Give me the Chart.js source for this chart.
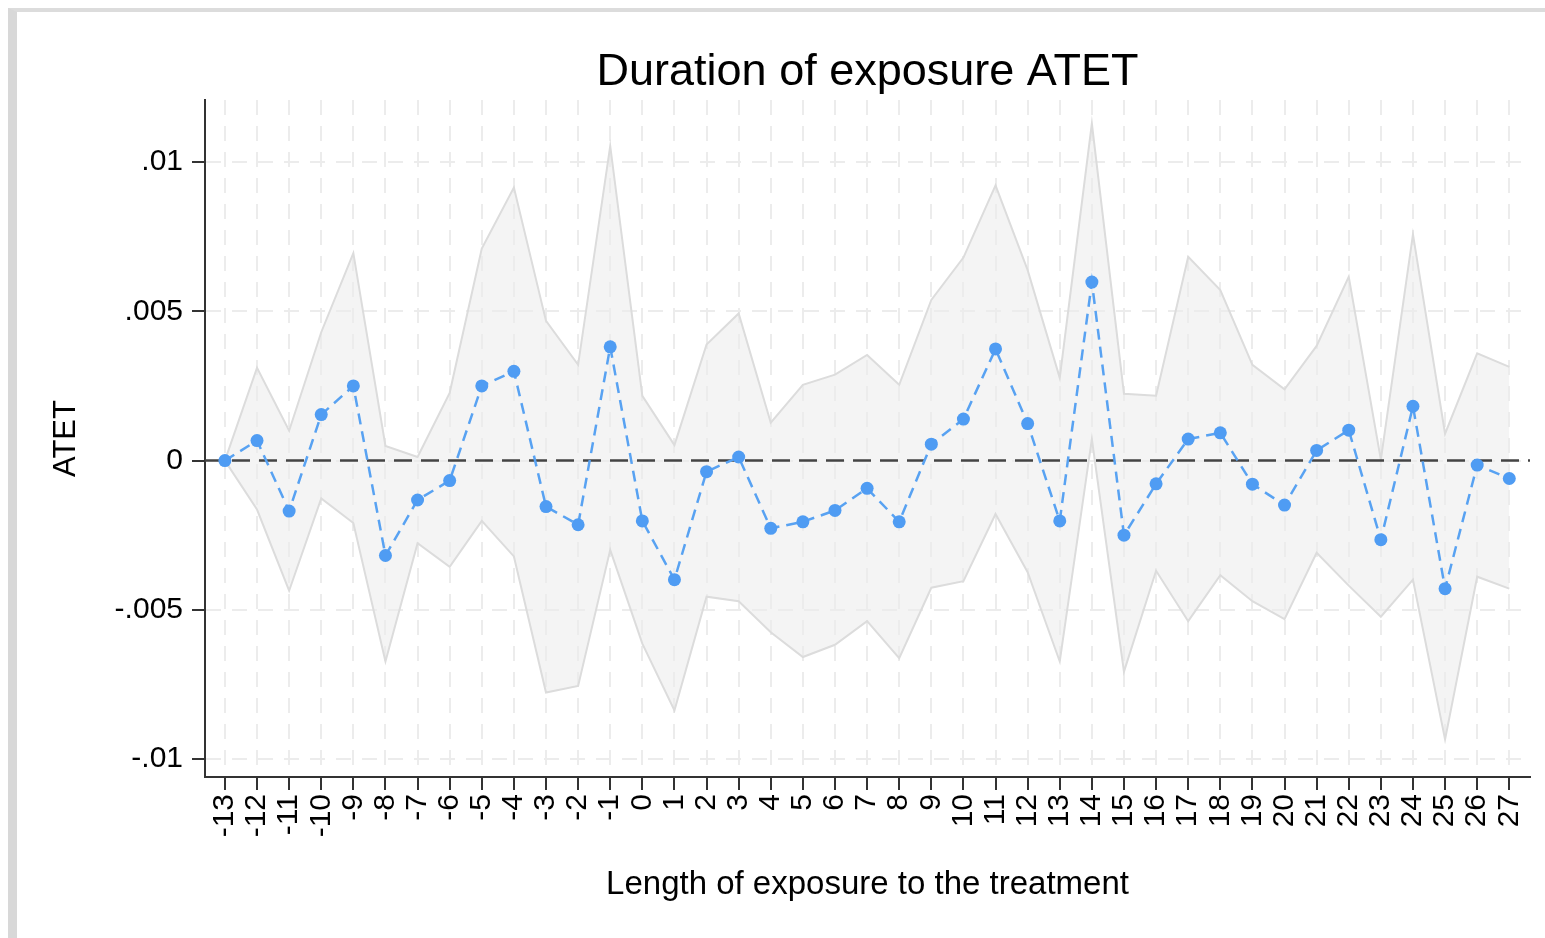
<!DOCTYPE html>
<html>
<head>
<meta charset="utf-8">
<script src="https://cdn.jsdelivr.net/npm/chart.js@4.4.1/dist/chart.umd.min.js"></script>
<style>
  html, body { margin: 0; padding: 0; background: #fff; }
  #frame {
    position: absolute; left: 8px; top: 8px; right: 0; bottom: 0;
    border-top: 4px solid #dcdcdc; border-left: 9px solid #d8d8d8;
  }
  #wrap { position: absolute; left: 0; top: 0; width: 1545px; height: 938px; }
</style>
</head>
<body>
<div id="frame"></div>
<div id="wrap"><canvas id="chart" width="1545" height="938"></canvas></div>
<script>
// values
const X_VALUES = [-13, -12, -11, -10, -9, -8, -7, -6, -5, -4, -3, -2, -1, 0, 1, 2, 3, 4, 5, 6,
  7, 8, 9, 10, 11, 12, 13, 14, 15, 16, 17, 18, 19, 20, 21, 22, 23, 24, 25, 26, 27];

const ATET = [0, 0.00067, -0.00169, 0.00154, 0.0025, -0.00318, -0.00132, -0.00067, 0.0025, 0.00299,
  -0.00154, -0.00215, 0.00381, -0.00202, -0.00399, -0.00037, 0.00012, -0.00227, -0.00205, -0.00167,
  -0.00093, -0.00205, 0.00055, 0.00139, 0.00374, 0.00124, -0.00202, 0.00598, -0.0025, -0.00078,
  0.00072, 0.00093, -0.00079, -0.00149, 0.00034, 0.00102, -0.00265, 0.00182, -0.00429, -0.00015, -0.0006];

const CI_UPPER = [0, 0.00311, 0.001, 0.0043, 0.00695, 0.00049, 0.00012, 0.00227, 0.0071, 0.00915,
  0.00468, 0.00321, 0.01054, 0.00217, 0.00052, 0.00389, 0.00493, 0.00127, 0.00254, 0.00288,
  0.00354, 0.00254, 0.00538, 0.0068, 0.00922, 0.00638, 0.00277, 0.01129, 0.00224, 0.00217,
  0.00683, 0.00571, 0.00321, 0.00239, 0.00384, 0.00616, 0.00003, 0.00758, 0.0009, 0.00359, 0.00314];

const CI_LOWER = [0, -0.00164, -0.00436, -0.00127, -0.00209, -0.00673, -0.00277, -0.00356, -0.00202, -0.00321,
  -0.00777, -0.00755, -0.00299, -0.00613, -0.00837, -0.00456, -0.00471, -0.00575, -0.00658, -0.00617,
  -0.00538, -0.00662, -0.00426, -0.00404, -0.00179, -0.00374, -0.00673, 0.00072, -0.00707, -0.00369,
  -0.00538, -0.00384, -0.00471, -0.00531, -0.00309, -0.00419, -0.00523, -0.00399, -0.00934, -0.00389, -0.00429];

const Y_TICKS = [-0.01, -0.005, 0, 0.005, 0.01];
const Y_TICK_LABELS = ['-.01', '-.005', '0', '.005', '.01'];

const X_MIN = -13.62, X_MAX = 27.645;
const Y_MIN = -0.0106, Y_MAX = 0.01208;

const FONT = "'Liberation Sans', Arial, Helvetica, sans-serif";
const pts = arr => X_VALUES.map((x, i) => ({ x, y: arr[i] }));

new Chart(document.getElementById('chart'), {
  type: 'line',
  data: {
    datasets: [
      {
        label: 'ATET',
        data: pts(ATET),
        borderColor: '#58a2f2',
        borderWidth: 2.5,
        borderDash: [11, 7],
        pointRadius: 6.5,
        pointBackgroundColor: '#4f9cf3',
        pointBorderWidth: 0,
        fill: false,
        tension: 0
      },
      {
        label: 'zero',
        data: [{ x: X_MIN, y: 0 }, { x: X_MAX, y: 0 }],
        borderColor: '#444',
        borderWidth: 2.5,
        borderDash: [18, 9],
        pointRadius: 0,
        fill: false
      },
      {
        label: 'upper',
        data: pts(CI_UPPER),
        borderColor: '#dcdcdc',
        borderWidth: 2,
        pointRadius: 0,
        fill: false,
        tension: 0
      },
      {
        label: 'lower',
        data: pts(CI_LOWER),
        borderColor: '#dcdcdc',
        borderWidth: 2,
        pointRadius: 0,
        backgroundColor: 'rgba(236,236,236,0.6)',
        fill: '-1',
        tension: 0
      }
    ]
  },
  options: {
    responsive: false,
    animation: false,
    layout: { padding: { left: 20, right: 15, top: 0, bottom: 0 } },
    plugins: {
      legend: { display: false },
      tooltip: { enabled: false },
      title: {
        display: true,
        text: 'Duration of exposure ATET',
        fullSize: false,
        color: '#000',
        font: { family: FONT, size: 45, weight: 'normal' },
        padding: { top: 46, bottom: 0 }
      }
    },
    scales: {
      x: {
        type: 'linear',
        min: X_MIN,
        max: X_MAX,
        afterBuildTicks: s => { s.ticks = X_VALUES.map(v => ({ value: v })); },
        afterFit: s => { s.height = 161; s.paddingLeft = 0; s.paddingRight = 0; },
        ticks: {
          autoSkip: false,
          minRotation: 90,
          maxRotation: 90,
          padding: 4,
          color: '#000',
          font: { family: FONT, size: 30 },
          callback: v => String(v)
        },
        grid: {
          color: '#ececec',
          lineWidth: 2,
          tickColor: '#333',
          tickLength: 13,
          tickWidth: 2
        },
        border: { display: true, color: '#333', width: 2, dash: [15, 11] },
        title: {
          display: true,
          text: 'Length of exposure to the treatment',
          color: '#000',
          font: { family: FONT, size: 33 },
          padding: { top: 0, bottom: 33 }
        }
      },
      y: {
        min: Y_MIN,
        max: Y_MAX,
        afterBuildTicks: s => { s.ticks = Y_TICKS.map(v => ({ value: v })); },
        afterFit: s => { s.width = 185; s.paddingTop = 0; s.paddingBottom = 0; },
        ticks: {
          padding: 9,
          color: '#000',
          font: { family: FONT, size: 30 },
          callback: v => Y_TICK_LABELS[Y_TICKS.indexOf(v)]
        },
        grid: {
          color: '#ececec',
          lineWidth: 2,
          tickColor: '#333',
          tickLength: 13,
          tickWidth: 2
        },
        border: { display: true, color: '#333', width: 2, dash: [15, 11] },
        title: {
          display: true,
          text: 'ATET',
          color: '#000',
          font: { family: FONT, size: 31 },
          padding: { top: 28, bottom: 0 }
        }
      }
    }
  }
});
</script>
</body>
</html>
